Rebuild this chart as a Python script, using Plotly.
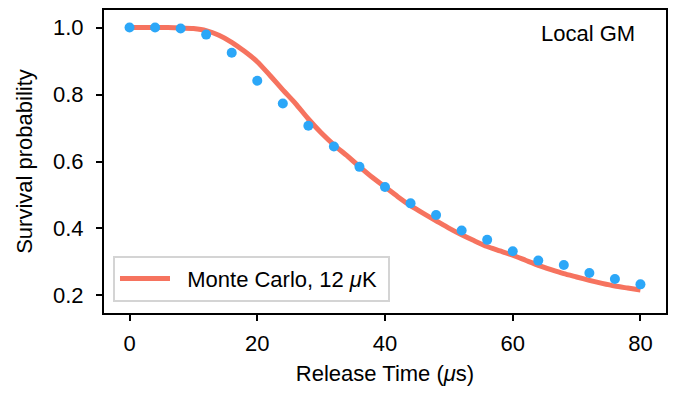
import plotly.graph_objects as go

# Measured survival probability (points)
t_meas = [0, 4, 8, 12, 16, 20, 24, 28, 32, 36, 40, 44, 48, 52, 56, 60, 64, 68, 72, 76, 80]
p_meas = [1.0, 1.0, 0.997, 0.979, 0.925, 0.841, 0.773, 0.707, 0.645, 0.584, 0.524,
          0.475, 0.440, 0.394, 0.366, 0.332, 0.304, 0.291, 0.267, 0.249, 0.233]

# Monte Carlo simulation curve, 12 uK
t_mc = [0, 2, 4, 6, 8, 10, 12, 14, 16, 18, 20, 22, 24, 26, 28, 30, 32, 34, 36, 38, 40,
        42, 44, 46, 48, 50, 52, 54, 56, 58, 60, 62, 64, 66, 68, 70, 72, 74, 76, 78, 80]
p_mc = [1.0, 1.0, 1.0, 1.0, 0.999, 0.997, 0.991, 0.977, 0.956, 0.929, 0.898, 0.857,
        0.814, 0.773, 0.727, 0.686, 0.650, 0.618, 0.585, 0.553, 0.524, 0.495, 0.468,
        0.445, 0.423, 0.401, 0.381, 0.363, 0.346, 0.333, 0.320, 0.305, 0.290, 0.277,
        0.265, 0.255, 0.245, 0.236, 0.228, 0.222, 0.216]

x_ticks = [0, 20, 40, 60, 80]
y_ticks = [0.2, 0.4, 0.6, 0.8, 1.0]
y_tick_text = ["0.2", "0.4", "0.6", "0.8", "1.0"]

FONT = "Liberation Sans, Arial, sans-serif"
FS = 22

fig = go.Figure()
fig.add_trace(go.Scatter(
    x=t_mc, y=p_mc, mode="lines", name="\u00a0\u00a0Monte Carlo, 12 <i>μ</i>K\u00a0",
    line=dict(color="#F6735F", width=5, shape="spline", smoothing=0.6), showlegend=True,
))
fig.add_trace(go.Scatter(
    x=t_meas, y=p_meas, mode="markers", name="Data",
    marker=dict(color="#2CA7F8", size=10, line=dict(width=0)), showlegend=False,
))

fig.add_annotation(
    text="Local GM", xref="paper", yref="paper", x=0.948, y=0.921,
    xanchor="right", yanchor="middle", showarrow=False,
    font=dict(family=FONT, size=FS, color="black"),
)

axis_common = dict(
    showline=True, linecolor="black", linewidth=2, mirror=True,
    ticks="outside", ticklen=6, tickwidth=2, tickcolor="black",
    showgrid=False, zeroline=False,
    tickfont=dict(family=FONT, size=FS, color="black"),
)

fig.update_layout(
    width=676, height=394,
    margin=dict(l=104, r=9, t=8, b=81),
    paper_bgcolor="white", plot_bgcolor="white",
    font=dict(family=FONT, size=FS, color="black"),
    xaxis=dict(range=[-4, 84], tickvals=x_ticks, ticklabelstandoff=4,
               title=dict(text="Release Time (<i>μ</i>s)", font=dict(family=FONT, size=FS), standoff=10),
               **axis_common),
    yaxis=dict(range=[0.1475, 1.0525], tickvals=y_ticks, ticktext=y_tick_text,
               ticklabelstandoff=8,
               title=dict(text="Survival probability", font=dict(family=FONT, size=FS), standoff=14),
               **axis_common),
    legend=dict(x=0.016, y=0.037, xanchor="left", yanchor="bottom",
                bgcolor="white", bordercolor="#D4D4D4", borderwidth=2,
                itemwidth=50,
                font=dict(family=FONT, size=FS, color="black")),
)

fig.write_html("out.html")
